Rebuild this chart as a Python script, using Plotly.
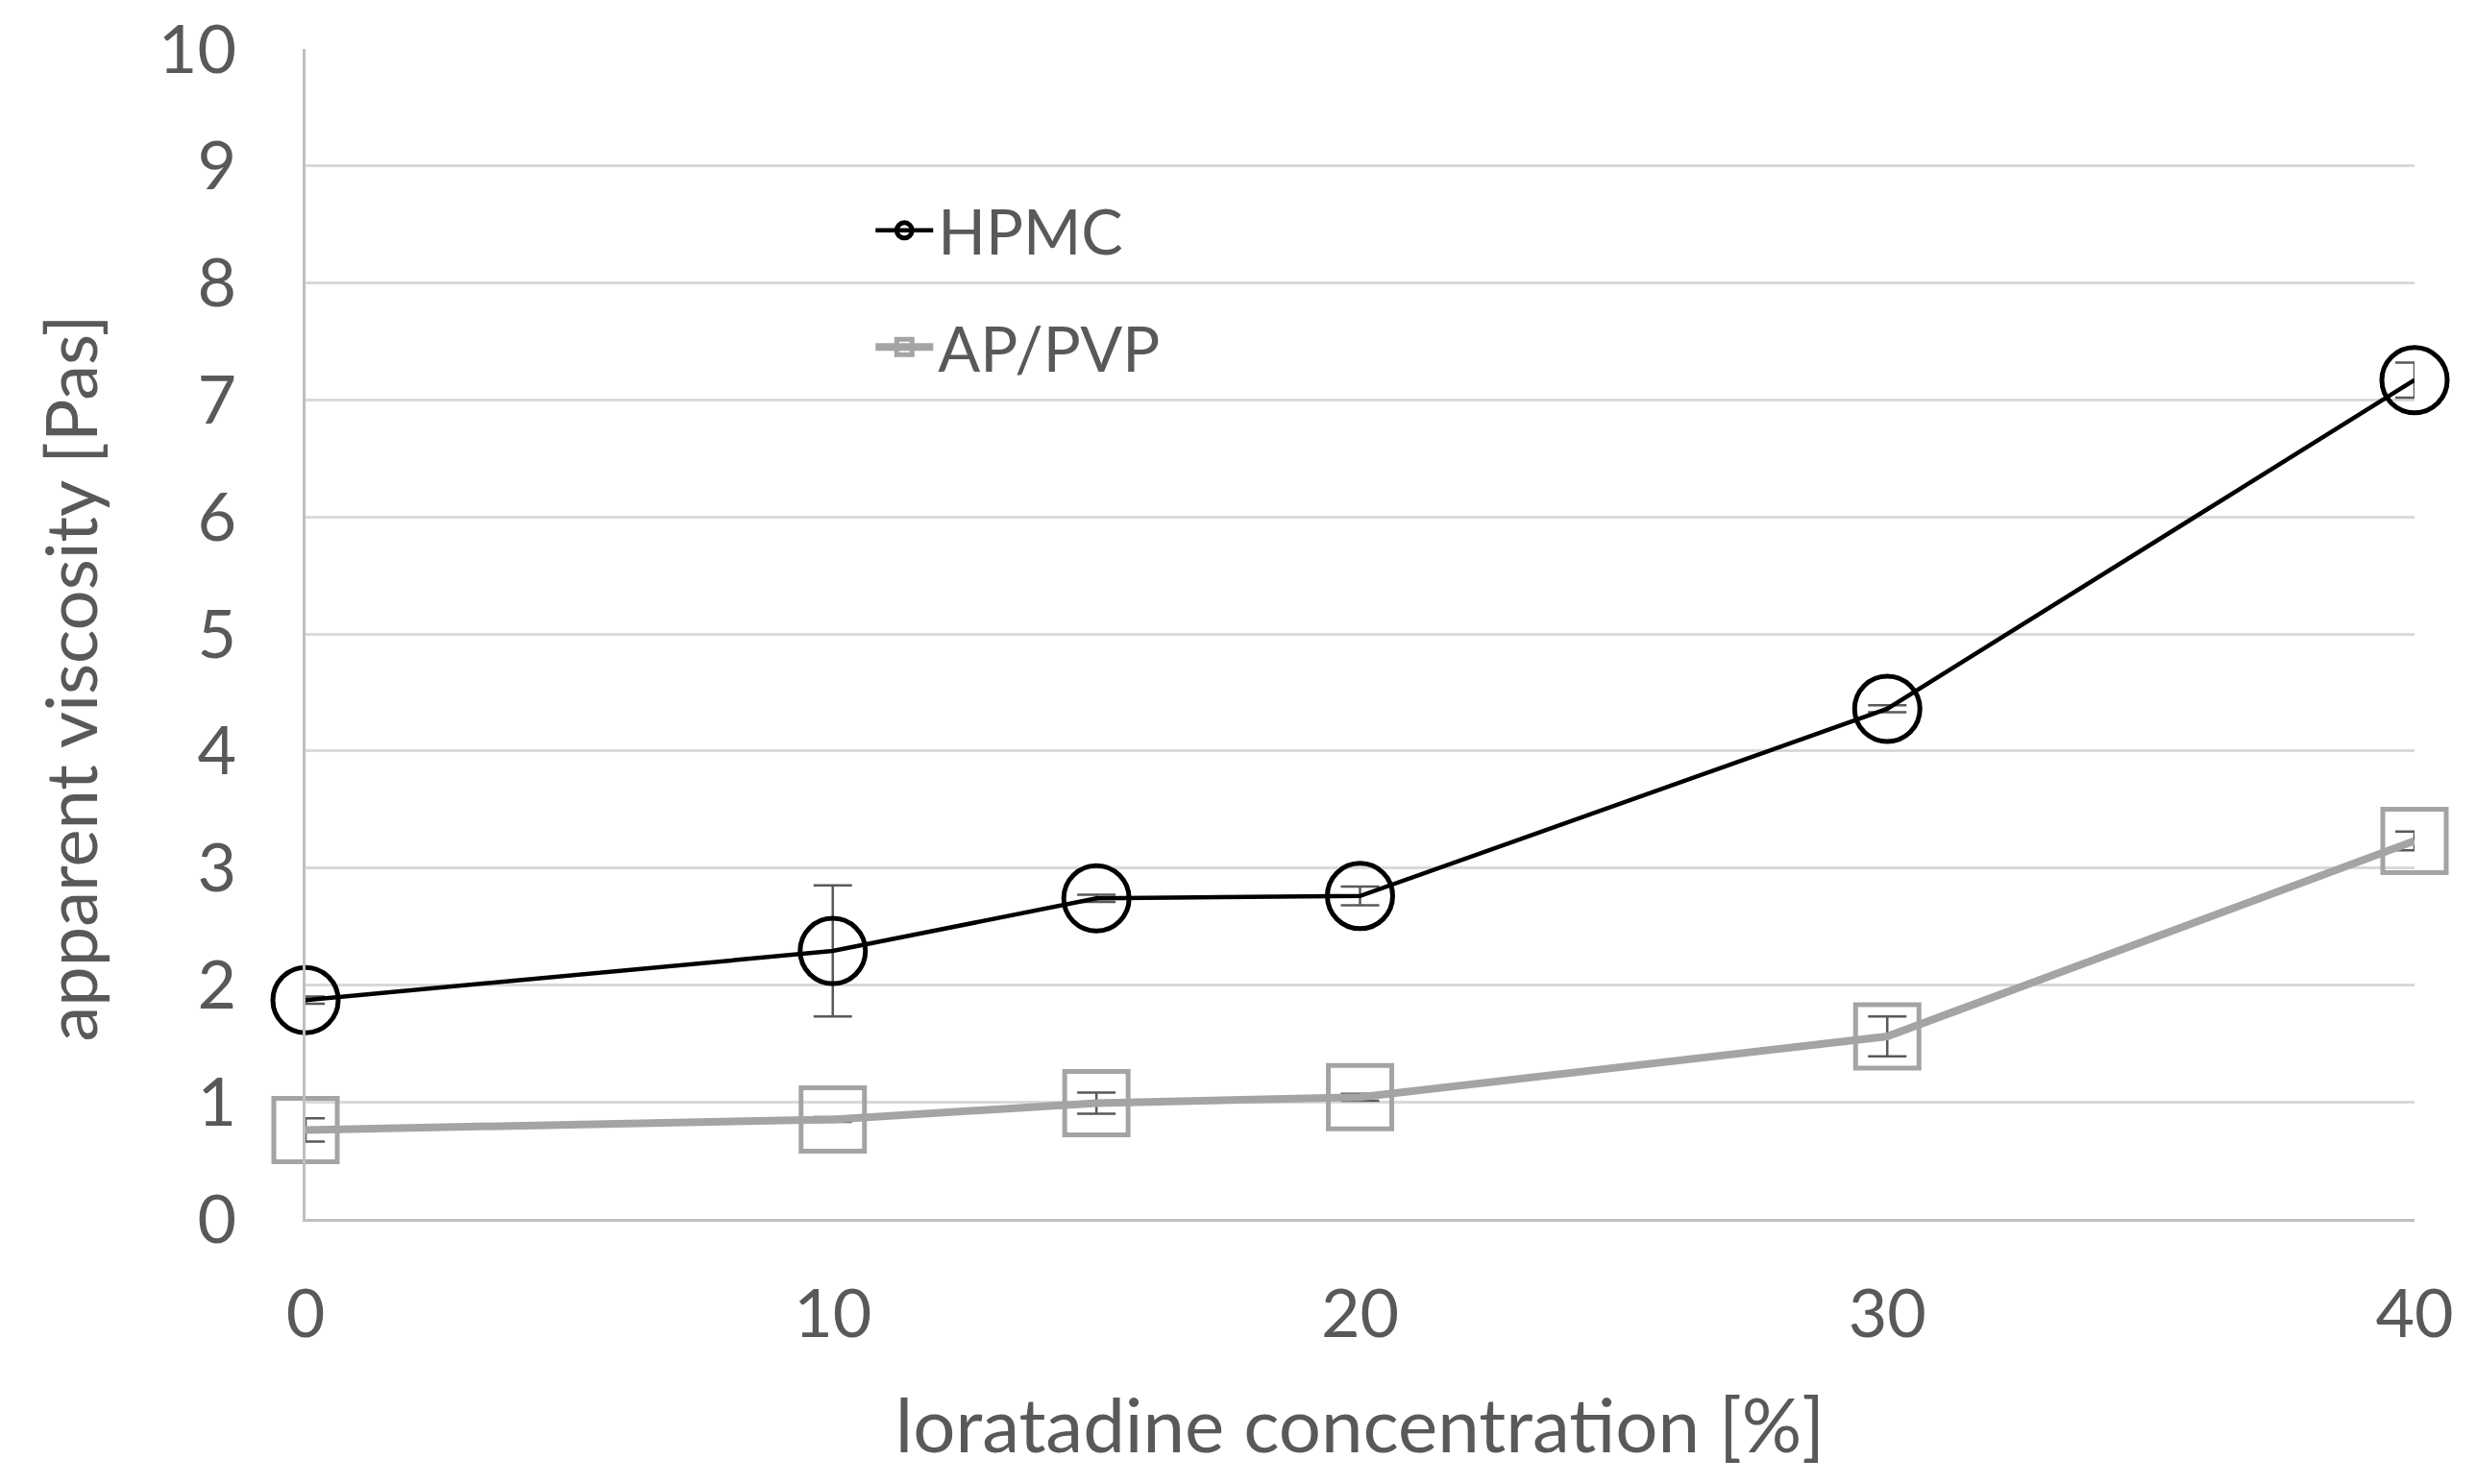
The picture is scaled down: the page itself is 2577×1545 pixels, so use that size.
import plotly.graph_objects as go

concentration = [0, 10, 15, 20, 30, 40]
hpmc = [1.87, 2.29, 2.74, 2.76, 4.36, 7.17]
hpmc_err = [0.03, 0.56, 0.03, 0.08, 0.03, 0.15]
appvp = [0.76, 0.85, 0.99, 1.04, 1.56, 3.23]
appvp_err = [0.10, 0.02, 0.09, 0.03, 0.17, 0.08]
x_ticks = [0, 10, 20, 30, 40]
y_ticks = list(range(0, 11))

FONT = "Lato"
TXT = "#595959"

fig = go.Figure()
fig.add_trace(go.Scatter(
    x=concentration, y=hpmc, name="HPMC", mode="lines+markers",
    line=dict(color="#000000", width=4.5),
    marker=dict(symbol="circle-open", size=68, color="#000000", line=dict(width=5)),
    error_y=dict(type="data", array=hpmc_err, color="#595959", thickness=2.5, width=20),
    cliponaxis=False, legendgroup="a",
))
fig.add_trace(go.Scatter(
    x=concentration, y=appvp, name="AP/PVP", mode="lines+markers",
    line=dict(color="#a6a3a3", width=8),
    marker=dict(symbol="square-open", size=66, color="#a6a3a3", line=dict(width=5)),
    error_y=dict(type="data", array=appvp_err, color="#595959", thickness=2.5, width=20),
    cliponaxis=False, legendgroup="b",
))

fig.update_layout(
    width=2577, height=1545,
    margin=dict(l=310, r=72, t=43, b=284),
    paper_bgcolor="white", plot_bgcolor="white",
    font=dict(family=FONT, color=TXT, size=60),
    showlegend=True,
    legend=dict(
        x=0.268, y=0.885, xanchor="left", yanchor="top",
        bgcolor="rgba(0,0,0,0)", font=dict(size=65, color=TXT, family=FONT),
        tracegroupgap=34, traceorder="grouped", itemwidth=60,
    ),
    xaxis=dict(
        range=[0, 40], tickvals=x_ticks, showgrid=False, zeroline=False, automargin=False,
        showline=True, linecolor="#bfbfbf", linewidth=3, ticklabeloverflow="allow",
        ticks="", ticklabelstandoff=36, tickfont=dict(size=70, color=TXT, family=FONT),
        title=dict(text="loratadine concentration [%]", font=dict(size=78, color=TXT, family=FONT), standoff=52),
    ),
    yaxis=dict(
        range=[0, 10], tickvals=y_ticks, showgrid=True, gridcolor="#d9d9d9", gridwidth=2.5,
        zeroline=False, showline=True, linecolor="#bfbfbf", linewidth=3, automargin=False,
        ticklabeloverflow="allow",
        ticks="", ticklabelstandoff=55, tickfont=dict(size=70, color=TXT, family=FONT),
    ),
    annotations=[dict(
        text="apparent viscosity [Pas]", xref="paper", yref="paper",
        x=-0.112, y=0.462, xanchor="center", yanchor="middle", textangle=-90,
        showarrow=False, font=dict(size=74, color=TXT, family=FONT),
    )],
)

fig.write_html("out.html")
